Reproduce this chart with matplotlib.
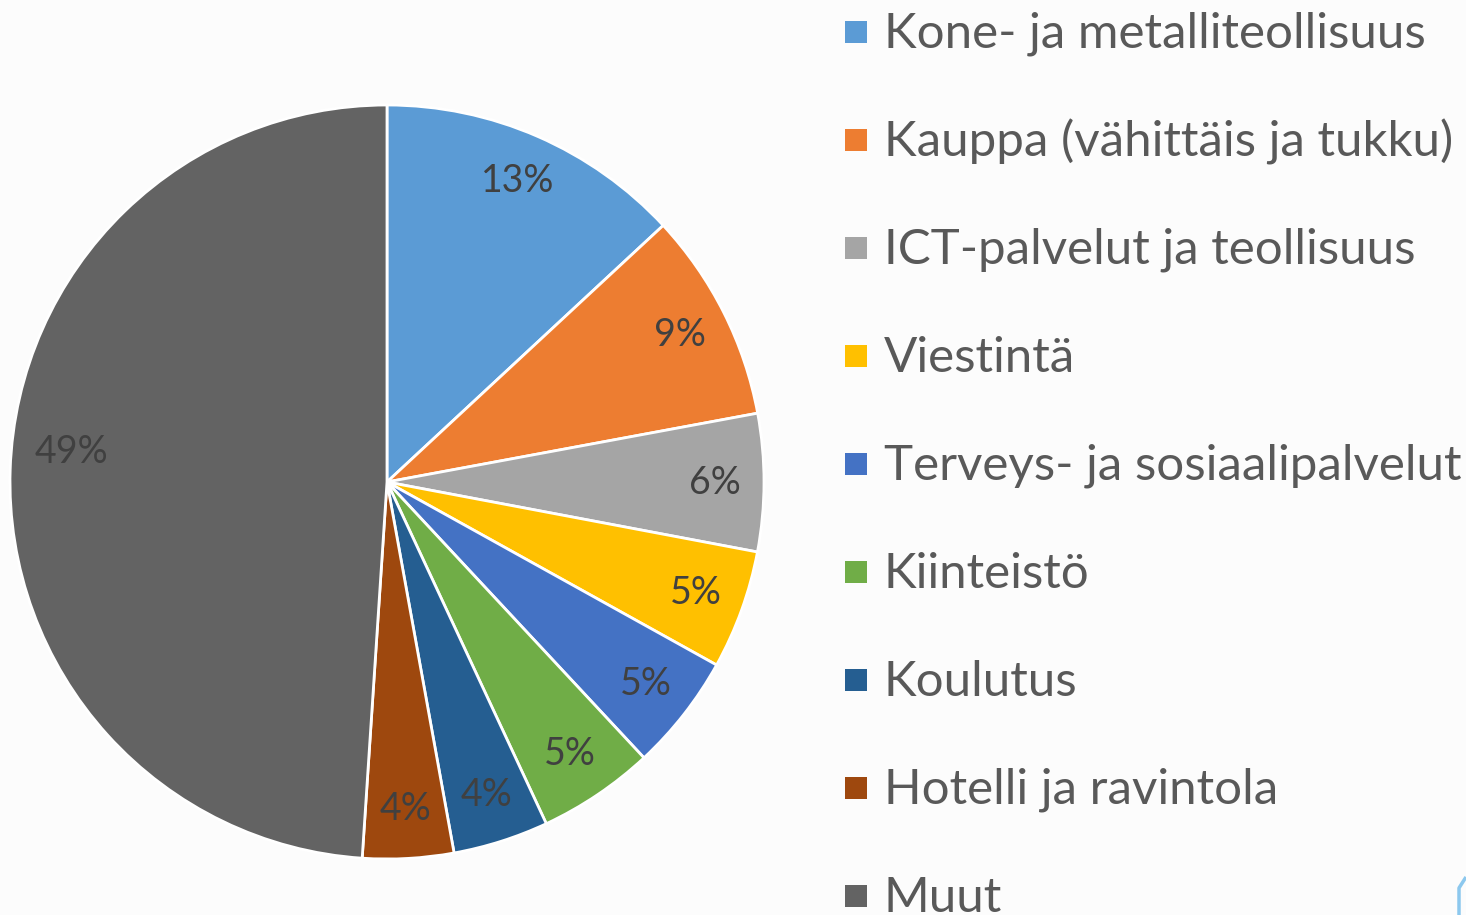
import numpy as np
import matplotlib.pyplot as plt
from matplotlib.patches import Rectangle

# Data
categories = ["Kone- ja metalliteollisuus", "Kauppa (vähittäis ja tukku)",
              "ICT-palvelut ja teollisuus", "Viestintä",
              "Terveys- ja sosiaalipalvelut", "Kiinteistö", "Koulutus",
              "Hotelli ja ravintola", "Muut"]
shares = [13.1, 9.0, 5.9, 5.1, 5.0, 5.0, 4.1, 3.9, 49.0]
colors = ["#5B9BD5", "#ED7D31", "#A5A5A5", "#FFC000", "#4472C4",
          "#70AD47", "#255E91", "#9E480E", "#636363"]

W, H = 1466, 915
fig = plt.figure(figsize=(W / 100, H / 100), dpi=100)
fig.patch.set_facecolor("#fcfcfc")

# pie axes: centre (387, 482) px, radius 377 px
cx, cy, r = 387, 482, 377
ax = fig.add_axes([(cx - r) / W, (H - cy - r) / H, 2 * r / W, 2 * r / H])
ax.set_facecolor("none")
wedges, texts, autotexts = ax.pie(
    shares, colors=colors, startangle=90, counterclock=False,
    autopct="%.0f%%", pctdistance=0.87, radius=1.0,
    wedgeprops=dict(edgecolor="white", linewidth=2),
    textprops=dict(color="#404040", fontsize=27, family="Lato"))
# the big slice label sits a little higher, as in the reference
ang = np.deg2rad(174.6)
autotexts[-1].set_position((0.84 * np.cos(ang), 0.84 * np.sin(ang)))
ax.set_xlim(-1, 1)
ax.set_ylim(-1, 1)
ax.set_aspect("equal")
ax.axis("off")

# legend drawn by hand in pixel coordinates
lax = fig.add_axes([0, 0, 1, 1])
lax.set_xlim(0, W)
lax.set_ylim(H, 0)
lax.axis("off")
row0, step = 32, 108
for i, (name, col) in enumerate(zip(categories, colors)):
    y = row0 + i * step
    lax.add_patch(Rectangle((845, y - 11), 22, 22, facecolor=col, edgecolor="none"))
    lax.text(884, y + 2, name, fontsize=35.5, color="#595959", family="Lato",
             va="center", ha="left")

# small light-blue decoration at the bottom right corner
lax.plot([1459, 1459, 1466], [915, 888, 877], color="#8CC8EE", lw=2.5,
         solid_capstyle="butt")

fig.savefig("out.png", dpi=100, facecolor=fig.get_facecolor())
